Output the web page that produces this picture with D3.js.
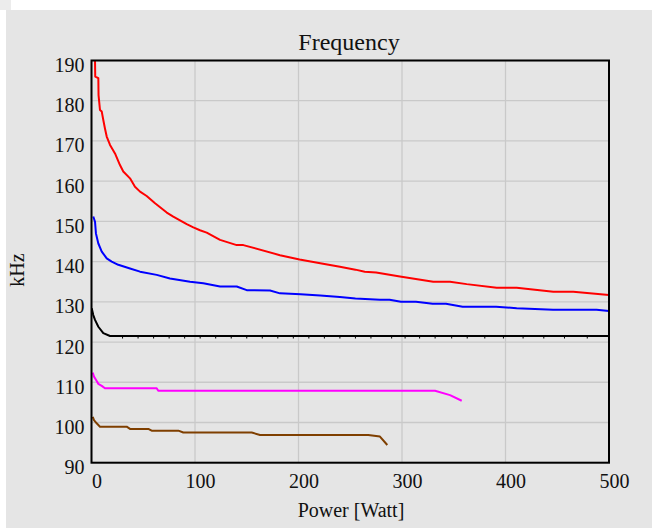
<!DOCTYPE html>
<html>
<head>
<meta charset="utf-8">
<script src="https://cdn.jsdelivr.net/npm/d3@7"></script>
<style>
html,body{margin:0;padding:0;background:#fff;}
svg{display:block;}
svg text{font-family:"Liberation Serif","Times New Roman",Tinos,Times,"DejaVu Serif",serif !important;fill:#111;}
</style>
</head>
<body>
<svg id="chart" width="652" height="530"></svg>
<script>
const title = "Frequency";
const xLabel = "Power [Watt]";
const yLabel = "kHz";
const xTicks = [0, 100, 200, 300, 400, 500];
const yTicks = [90, 100, 110, 120, 130, 140, 150, 160, 170, 180, 190];

const seriesRed = [[2.5,191],[3.4,190],[3.6,186],[6.6,185.6],[6.8,181.4],[8.2,177.7],[9.9,177.3],[11.4,175.2],[13,173.1],[14.7,171.1],[17.9,169],[22.7,166.9],[27.5,164],[30.7,162.4],[37.2,160.7],[42,158.6],[46.9,157.4],[53.3,156.3],[61.4,154.5],[72.7,152.2],[79,151.2],[92,149.3],[98.4,148.5],[104.8,147.8],[111.3,147.2],[124.2,145.4],[140.3,144.1],[146.7,144.1],[182.1,141.6],[201,140.5],[221,139.6],[240,138.7],[255,138],[264,137.5],[275,137.3],[298,136.3],[330.2,135],[346.4,135],[362.5,134.4],[391.5,133.5],[410.8,133.5],[446.2,132.5],[465.5,132.5],[500,131.7]];
const seriesBlue = [[1.7,151.2],[3.4,149.9],[4.3,147],[6.6,144.5],[9.9,142.5],[14.7,140.8],[19.5,140],[25.9,139.2],[37.2,138.3],[46.9,137.5],[63,136.7],[75.8,135.8],[95.2,135],[108,134.6],[124.2,133.8],[140.3,133.8],[150,132.9],[172.5,132.8],[182.1,132.1],[202,131.9],[221,131.6],[240,131.2],[255,130.8],[278.7,130.5],[288,130.5],[299,130],[313.5,130],[329.6,129.5],[342.5,129.5],[358.6,128.8],[391,128.8],[410.8,128.4],[446,128],[488,128],[500,127.7]];
const seriesBlack = [[0.2,128.4],[1.7,126.7],[3.4,125.5],[6.6,123.8],[11.4,122.2],[17.9,121.5],[30,121.5],[45,121.5],[60,121.5],[75,121.5],[90,121.5],[105,121.5],[120,121.5],[135,121.5],[150,121.5],[165,121.5],[180,121.5],[195,121.5],[210,121.5],[225,121.5],[240,121.5],[255,121.5],[270,121.5],[290,121.5],[303,121.5],[317,121.5],[332,121.5],[348,121.5],[363,121.5],[380,121.5],[398,121.5],[417,121.5],[437,121.5],[457,121.5],[479,121.5],[500,121.5]];
const seriesMagenta = [[1.2,112.4],[2.4,111.4],[4.3,110.6],[6.6,109.6],[9.9,109.1],[13,108.5],[63,108.5],[64.5,107.9],[331.9,107.9],[346.4,106.8],[357.7,105.4]];
const seriesBrown = [[1.2,101.4],[2.4,100.6],[5,99.8],[8.2,98.95],[34,98.95],[37.2,98.4],[54.9,98.4],[58.1,97.96],[83.9,97.96],[88.7,97.5],[154.8,97.5],[162.8,96.9],[267.4,96.9],[278.7,96.5],[285.8,94.4]];

const seriesList = [
  {data: seriesRed, color: "#ff0000"},
  {data: seriesBlue, color: "#0000ff"},
  {data: seriesBlack, color: "#000000", ticks: true},
  {data: seriesMagenta, color: "#ff00ff"},
  {data: seriesBrown, color: "#7f3f00"}
];

const svg = d3.select("#chart");
const L = 91.5, R = 609, T = 60.5, B = 462.7;
const FONT = "'Liberation Serif','Times New Roman',Tinos,Times,'DejaVu Serif',serif";

svg.append("rect").attr("x",0).attr("y",0).attr("width",11).attr("height",10).attr("fill","#ececec");
svg.append("rect").attr("x",6).attr("y",10).attr("width",646).attr("height",518).attr("fill","#e5e5e5");

const x = d3.scaleLinear().domain([0,500]).range([L,R]);
const y = d3.scaleLinear().domain([90,190]).range([B,T]);

// grid
const grid = svg.append("g");
grid.selectAll("line.gx").data(xTicks).enter().append("line")
  .attr("x1",d=>x(d)).attr("x2",d=>x(d)).attr("y1",T).attr("y2",B)
  .attr("stroke","#c9c9c9").attr("stroke-width",1.3);
grid.selectAll("line.gy").data(yTicks).enter().append("line")
  .attr("x1",L).attr("x2",R).attr("y1",d=>y(d)).attr("y2",d=>y(d))
  .attr("stroke","#c9c9c9").attr("stroke-width",1.3);

// clip
svg.append("clipPath").attr("id","clip").append("rect")
  .attr("x",L).attr("y",T).attr("width",R-L).attr("height",B-T);

const line = d3.line().x(d=>x(d[0])).y(d=>y(d[1]));
const plot = svg.append("g").attr("clip-path","url(#clip)");
seriesList.forEach(s=>{
  plot.append("path").datum(s.data).attr("d",line)
    .attr("fill","none").attr("stroke",s.color).attr("stroke-width",2)
    .attr("stroke-linejoin","round");
  if (s.ticks) {
    plot.selectAll(null).data(s.data.slice(6)).enter().append("line")
      .attr("x1",d=>x(d[0])).attr("x2",d=>x(d[0]))
      .attr("y1",d=>y(d[1])-1).attr("y2",d=>y(d[1])+2.5)
      .attr("stroke",s.color).attr("stroke-width",1);
  }
});

// frame
svg.append("rect").attr("x",L).attr("y",T).attr("width",R-L).attr("height",B-T)
  .attr("fill","none").attr("stroke","#000").attr("stroke-width",2);

// axes labels via d3 axes (text only)
const yAxis = d3.axisLeft(y).tickValues(yTicks).tickFormat(d3.format("d")).tickSize(0).tickPadding(7);
const gy = svg.append("g").attr("transform",`translate(${L},0)`).call(yAxis)
  .attr("font-family",FONT).attr("font-size",20);
gy.select(".domain").remove();
gy.selectAll("text").attr("dy","0.55em").attr("fill","#111");

const xAxis = d3.axisBottom(x).tickValues(xTicks).tickFormat(d3.format("d")).tickSize(0).tickPadding(11);
const gx = svg.append("g").attr("transform",`translate(0,${B})`).call(xAxis)
  .attr("font-family",FONT).attr("font-size",20);
gx.select(".domain").remove();
gx.selectAll("text").attr("dx",5).attr("fill","#111");

svg.append("text").attr("x",349).attr("y",49.5).attr("text-anchor","middle")
  .attr("font-family",FONT).attr("font-size",24).text(title);
svg.append("text").attr("x",351).attr("y",517).attr("text-anchor","middle")
  .attr("font-family",FONT).attr("font-size",20).text(xLabel);
svg.append("text").attr("transform","translate(24,270) rotate(-90)").attr("text-anchor","middle")
  .attr("font-family",FONT).attr("font-size",20).text(yLabel);
</script>
</body>
</html>
